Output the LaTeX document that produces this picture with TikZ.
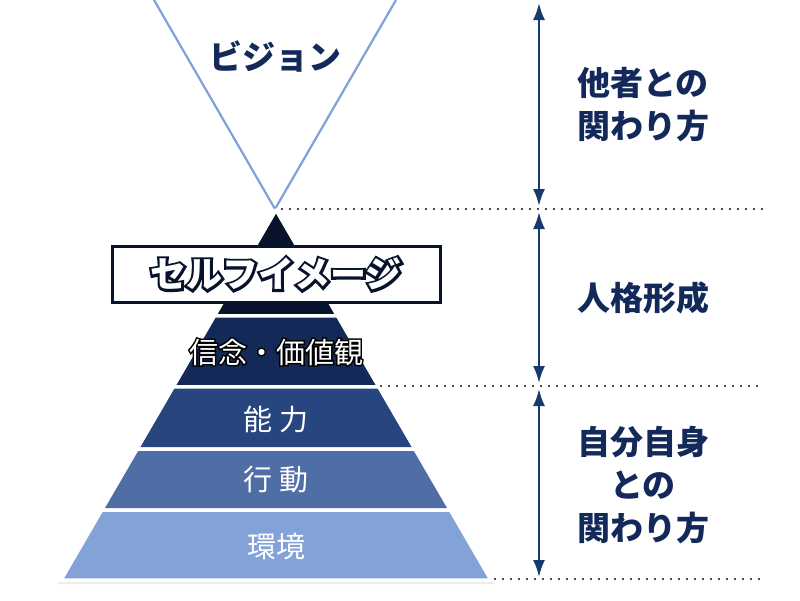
\documentclass[tikz,border=0pt]{standalone}
\usepackage{fontspec}
\usepackage{xcolor}
\usepackage{tikz}
\usetikzlibrary{arrows.meta,calc}

\newfontfamily\jpfont{Noto Sans CJK JP}
\newfontfamily\jpglowA{Noto Sans CJK JP}[FakeBold=14, BoldFeatures={FakeBold=14}]
\newfontfamily\jpglowB{Noto Sans CJK JP}[FakeBold=10, BoldFeatures={FakeBold=10}]

\definecolor{navytxt}{HTML}{13295A}
\definecolor{arrowcol}{HTML}{173A6C}
\definecolor{layA}{HTML}{06132B}
\definecolor{layB}{HTML}{132A58}
\definecolor{layC}{HTML}{27467F}
\definecolor{layD}{HTML}{4F6EA6}
\definecolor{layE}{HTML}{82A2D8}
\definecolor{vcol}{HTML}{7FA1DA}
\definecolor{dotcol}{HTML}{4A4A4A}

% text with a dark rim under it
\newcommand{\haloed}[3]{\makebox[0pt][l]{#1\textcolor{#2}{#3}}#3}

\tikzset{
  dimarrow/.style={arrowcol, line width=2.2pt,
    {Latex[length=17pt,width=12pt]}-{Latex[length=17pt,width=12pt]}},
  sepline/.style={dotcol, line width=2pt, dash pattern=on 2pt off 6pt},
  sidelabel/.style={navytxt, align=center, font=\jpfont\bfseries\fontsize{33}{43}\selectfont},
  laylabel/.style={white, font=\jpfont\fontsize{29}{34}\selectfont},
}

\begin{document}
\begin{tikzpicture}[x=1pt,y=-1pt]
                \useasboundingbox (0,0) rectangle (800,600);
                % vision
                \draw[vcol, line width=2.2pt, line join=round](154,0) -- (275,209) -- (396,0);
                \node[navytxt, font=\jpfont\bfseries\fontsize{33}{40}\selectfont] (vision) at (275,56) {ビジョン};
                % pyramid
                \coordinate (apex) at (276,210);
                \coordinate (bl) at (61,580);
                \coordinate (br) at (491,580);
                \fill[black, opacity=0.07] ($(bl)+(-3,4)$) -- ($(br)+(3,4)$) -- ($(apex)+(0,4)$) -- cycle;
                \foreach \ta/\tb/\col in {0/0.286/layA, 0.286/0.478/layB, 0.478/0.646/layC, 0.646/0.811/layD, 0.811/1/layE}
                    \filldraw[fill=\col, draw=white, line width=3.5pt, line join=round]
                        ($(apex)!\ta!(bl)$) -- ($(apex)!\tb!(bl)$) -- ($(apex)!\tb!(br)$) -- ($(apex)!\ta!(br)$) -- cycle;
                \node[draw=layA, fill=white, text=white, line width=3pt, minimum width=328pt, minimum height=56pt, inner sep=0pt,
                      font=\jpfont\bfseries\fontsize{36}{40}\selectfont] (selfimg) at (276,274)
                      {\haloed{\jpglowA}{layA}{セルフイメージ}};
                \node[laylabel] (belief) at (276,352) {\haloed{\jpglowB}{black}{信念・価値観}};
                \node[laylabel] (ability) at (276,420) {能\hspace{0.25em}力};
                \node[laylabel] (action) at (276,480) {行\hspace{0.25em}動};
                \node[laylabel] (environ) at (276,546) {環境};
                % dotted separators
                \coordinate (s1) at (281,209);
                \coordinate (e1) at (763,209);
                \coordinate (s2) at (380,386);
                \coordinate (e2) at (763,386);
                \coordinate (s3) at (494,579);
                \coordinate (e3) at (763,579);
                \draw[sepline] (s1) -- (e1);
                \draw[sepline] (s2) -- (e2);
                \draw[sepline] (s3) -- (e3);
                % arrows
                \coordinate (a0) at (539,3);
                \coordinate (a1) at (539,206);
                \coordinate (a2) at (539,212);
                \coordinate (a3) at (539,383);
                \coordinate (a4) at (539,389);
                \coordinate (a5) at (539,577);
                \draw[dimarrow] (a0) -- (a1);
                \draw[dimarrow] (a2) -- (a3);
                \draw[dimarrow] (a4) -- (a5);
                \node[sidelabel] (others) at (643,105) {他者との\\関わり方};
                \node[sidelabel] (persona) at (643,298) {人格形成};
                \node[sidelabel] (selfrel) at (643,485) {自分自身\\との\\関わり方};
            \end{tikzpicture}
\end{document}
